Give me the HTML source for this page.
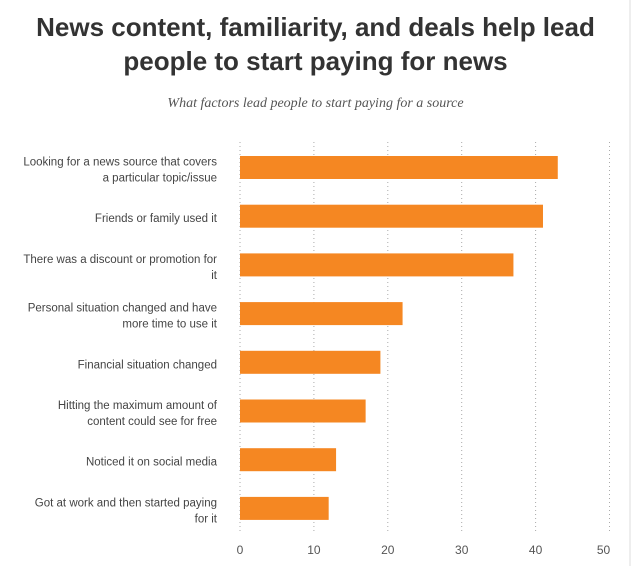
<!DOCTYPE html>
<html><head><meta charset="utf-8"><style>
body{margin:0;background:#fff;width:631px;height:566px;overflow:hidden;position:relative;font-family:"Liberation Sans",sans-serif}
#title{position:absolute;left:0;width:631px;top:10px;text-align:center;font-weight:bold;font-size:26px;line-height:34px;color:#333}
#sub{position:absolute;left:0;width:631px;top:96px;text-align:center;font-family:"Liberation Serif",serif;font-style:italic;font-size:14px;color:#555}
#edge{position:absolute;left:629px;top:0;width:2px;height:566px;background:#eee}
</style></head><body>
<div id="title">News content, familiarity, and deals help lead<br>people to start paying for news</div>
<div id="sub">What factors lead people to start paying for a source</div>
<div id="edge"></div>
<svg id="chart" width="631" height="566" style="position:absolute;left:0;top:0"></svg>
<script>
const categories=[["Looking for a news source that covers","a particular topic/issue"],["Friends or family used it"],["There was a discount or promotion for","it"],["Personal situation changed and have","more time to use it"],["Financial situation changed"],["Hitting the maximum amount of","content could see for free"],["Noticed it on social media"],["Got at work and then started paying","for it"]];
const values=[43,41,37,22,19,17,13,12];
const ticks=[0,10,20,30,40,50];
const NS="http://www.w3.org/2000/svg";
const svg=document.getElementById('chart');
const x=v=>240+v*7.39;
const yc=i=>167.5+i*48.7;
function mk(t,a){const e=document.createElementNS(NS,t);for(const k in a)e.setAttribute(k,a[k]);svg.appendChild(e);return e;}
ticks.forEach((t,i)=>{
 const g=mk('line',{x1:x(t),x2:x(t),y1:142,y2:532,stroke:'#aaa','stroke-width':1,'stroke-dasharray':'1 3'});
 
 
 const lx=i===ticks.length-1?x(t)-6:x(t);
 const l=mk('text',{x:lx,y:554,'text-anchor':'middle','font-size':12,fill:'#555','font-family':'Liberation Sans, sans-serif'});
 l.textContent=t;
 
 
});
values.forEach((v,i)=>{
 const r=mk('rect',{x:x(0),y:yc(i)-11.5,width:x(v)-x(0),height:23,fill:'#f58722'});
 
 
 const lines=categories[i];
 lines.forEach((s,j)=>{
  const t=mk('text',{x:217,y:yc(i)+6+(j-(lines.length-1)/2)*16,'text-anchor':'end','font-size':11.5,fill:'#444','font-family':'Liberation Sans, sans-serif'});
  t.textContent=s;
  
  
 });
});
</script>
</body></html>
